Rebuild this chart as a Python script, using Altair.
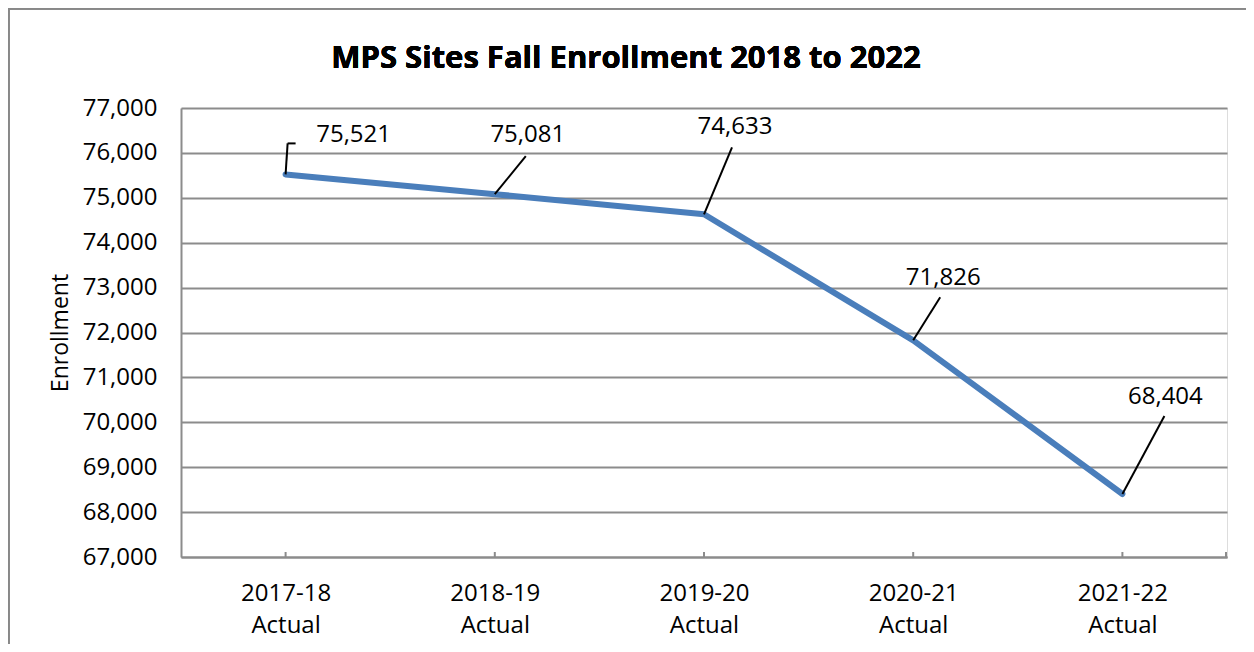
import altair as alt
import pandas as pd

# ---- data ----
categories = ["2017-18 Actual", "2018-19 Actual", "2019-20 Actual", "2020-21 Actual", "2021-22 Actual"]
enrollment = [75521, 75081, 74633, 71826, 68404]
y_ticks = [67000, 68000, 69000, 70000, 71000, 72000, 73000, 74000, 75000, 76000, 77000]
title_text = "MPS Sites Fall Enrollment 2018 to 2022"

df = pd.DataFrame({"year": categories, "enrollment": enrollment})

# ---- style ----
W, H = 1046, 449
FONT = "Open Sans"
GRID = "#8c8c8c"
LINE = "#4A7EBB"
FS = 24
# label placement offsets (pixels from the data point), like Excel's moved labels
label_dx = [68, 33, 31, 30, 43]
label_dy = [-39, -59, -87, -62, -97]
# leader segments per label: (xOffset, yOffset, x2Offset, y2Offset)
leaders = [
    [(0, 0, 2, -31), (2, -31, 10, -31)],
    [(0, 0, 31, -38)],
    [(0, 0, 28, -67)],
    [(0, 0, 27, -43)],
    [(0, 0, 42, -78)],
]

x_enc = alt.X(
    "year:N", sort=categories,
    scale=alt.Scale(type="point", padding=0.5),
    axis=alt.Axis(title=None, labelExpr="split(datum.label, ' ')", labelAngle=0,
                  labelFontSize=FS, labelFont=FONT, labelColor="#000",
                  labelLineHeight=32, labelPadding=24, labelBaseline="top",
                  domainColor=GRID, domainWidth=2, ticks=False, grid=False),
)
y_enc = alt.Y(
    "enrollment:Q",
    scale=alt.Scale(domain=[67000, 77000], nice=False, zero=False),
    axis=alt.Axis(values=y_ticks, format=",d", title="Enrollment",
                  titleFont=FONT, titleFontSize=23, titleFontWeight="normal",
                  titleColor="#000", titleX=-121, titleY=H / 2, titleAngle=-90,
                  titleAlign="center", titleBaseline="middle",
                  labelFont=FONT, labelFontSize=FS, labelColor="#000",
                  labelPadding=24, ticks=False,
                  domainColor=GRID, domainWidth=2,
                  grid=True, gridColor=GRID, gridWidth=2),
)

base = alt.Chart(df)

border = base.mark_rect(fill=None, stroke="#888888", strokeWidth=2).encode(
    x=alt.value(-172.5), y=alt.value(-99.5), x2=alt.value(W + 300), y2=alt.value(H + 300)
)

title = base.mark_text(text=title_text, font=FONT, fontSize=31, fontWeight="bold",
                       color="#000", align="center", baseline="alphabetic").encode(
    x=alt.value(445), y=alt.value(-40)
)

line = base.mark_line(color=LINE, strokeWidth=6, strokeJoin="round", strokeCap="round").encode(
    x=x_enc, y=y_enc
)

ticks = base.mark_rule(color=GRID, strokeWidth=2).encode(
    x=alt.X("year:N", sort=categories), y=alt.value(H - 5), y2=alt.value(H)
)
end_tick = base.mark_rule(color=GRID, strokeWidth=2).encode(
    x=alt.value(W - 1), y=alt.value(H - 5), y2=alt.value(H)
)

layers = [border, title, line, ticks, end_tick]
for i, cat in enumerate(categories):
    sub = base.transform_filter(alt.datum.year == cat)
    for (xo, yo, x2o, y2o) in leaders[i]:
        layers.append(
            sub.mark_rule(color="#000", strokeWidth=2, xOffset=xo, yOffset=yo,
                          x2Offset=x2o, y2Offset=y2o).encode(
                x=alt.X("year:N", sort=categories), x2="year",
                y="enrollment:Q", y2="enrollment",
            )
        )
    layers.append(
        sub.mark_text(font=FONT, fontSize=FS, color="#000", dx=label_dx[i], dy=label_dy[i],
                      align="center", baseline="middle").encode(
            x=alt.X("year:N", sort=categories), y="enrollment:Q",
            text=alt.Text("enrollment:Q", format=",d"),
        )
    )

chart = alt.layer(*layers).properties(
    width=W, height=H,
    autosize=alt.AutoSizeParams(type="none"),
    padding={"left": 173, "top": 100, "right": 19, "bottom": 87},
).configure_view(stroke=None).configure(background="white")

chart.save("out.html", embed_options={"renderer": "svg", "actions": False})
